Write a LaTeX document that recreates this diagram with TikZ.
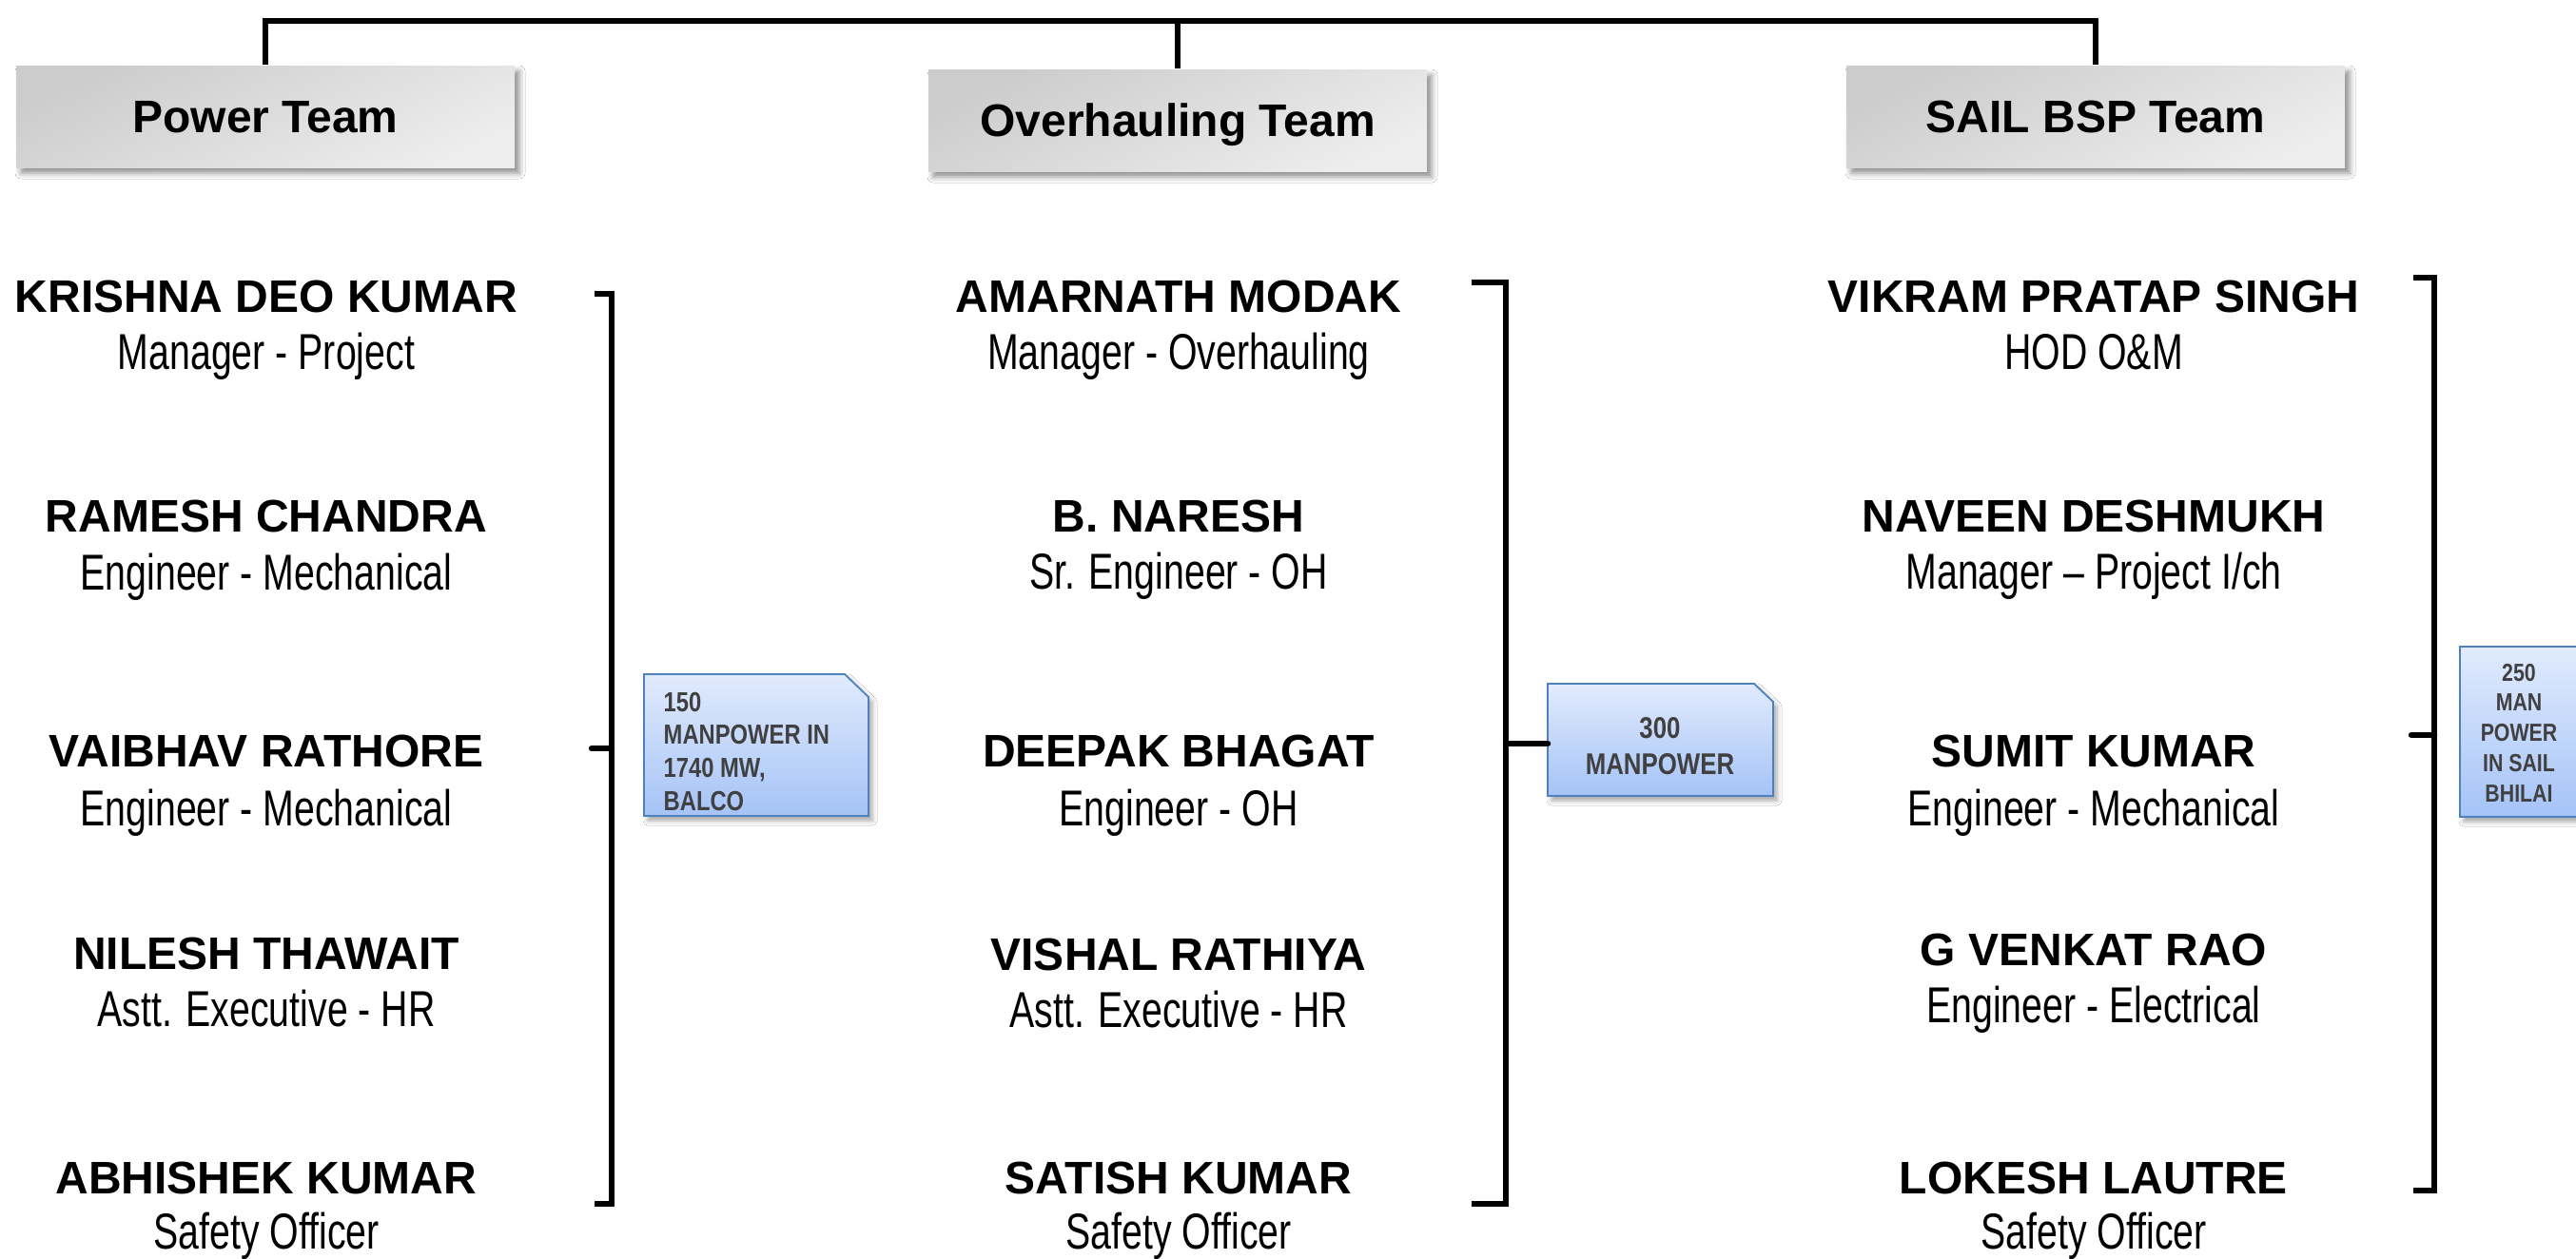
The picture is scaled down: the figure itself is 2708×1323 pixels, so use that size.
\documentclass[tikz,border=0pt]{standalone}
\usepackage{fontspec}
\setmainfont{Liberation Sans}
\newfontfamily\narrowfont[FakeStretch=0.82]{Liberation Sans}
\newfontfamily\rolefont[FakeStretch=0.74]{Liberation Sans}
\usetikzlibrary{shadows.blur,calc}
\definecolor{tbtop}{HTML}{CCCCCC}
\definecolor{tbbot}{HTML}{EDEDED}
\definecolor{cotop}{HTML}{E1EBFD}
\definecolor{cobot}{HTML}{A5C3F7}
\definecolor{coline}{HTML}{4F81BD}
\definecolor{cotext}{HTML}{404040}
\begin{document}
\begin{tikzpicture}[x=0.1mm,y=-0.1mm,line join=miter,
  teambox/.style={minimum width=52.4mm,minimum height=10.7mm,inner sep=0pt,
    top color=tbtop,bottom color=tbbot,shading angle=25,
    font=\bfseries\fontsize{13.66pt}{16pt}\selectfont,text height=9.8pt,text depth=0pt,
    blur shadow={shadow xshift=0.5mm,shadow yshift=-0.6mm,shadow blur radius=0.6mm,shadow opacity=45}},
  pname/.style={anchor=base,inner sep=0pt,font=\bfseries\fontsize{13.66pt}{16pt}\selectfont},
  prole/.style={anchor=base,inner sep=0pt,font=\rolefont\fontsize{15.1pt}{18pt}\selectfont},
  busline/.style={line width=0.6mm},
  brk/.style={line width=0.65mm},
  callout/.style={draw=coline,line width=0.18mm,top color=cotop,bottom color=cobot,
    blur shadow={shadow xshift=0.4mm,shadow yshift=-0.5mm,shadow blur radius=0.5mm,shadow opacity=35}},
  cotxt/.style={inner sep=0pt,text depth=0pt,text=cotext},
]
\useasboundingbox (0,0) rectangle (2708,1323);
\fill[white] (0,0) rectangle (2708,1323);
\clip (0,0) rectangle (2708,1323);

% team boxes
\node[teambox] (t1) at (279,122.5) {Power Team};
\node[teambox] (t2) at (1238,126.5) {Overhauling Team};
\node[teambox] (t3) at (2203,122.5) {SAIL BSP Team};
\coordinate (bus) at (0,22);
\draw[busline] (t1.north) -- (t1.north |- bus) -- (t3.north |- bus) -- (t3.north);
\draw[busline] (t2.north) -- (t2.north |- bus);

% column 1
\node[pname] (n11) at (280,328) {KRISHNA DEO KUMAR};
\node[prole] (r11) at (280,388) {Manager - Project};
\node[pname] (n12) at (280,559) {RAMESH CHANDRA};
\node[prole] (r12) at (280,620) {Engineer - Mechanical};
\node[pname] (n13) at (280,806) {VAIBHAV RATHORE};
\node[prole] (r13) at (280,868) {Engineer - Mechanical};
\node[pname] (n14) at (280,1019) {NILESH THAWAIT};
\node[prole] (r14) at (280,1079) {Astt. Executive - HR};
\node[pname] (n15) at (280,1255) {ABHISHEK KUMAR};
\node[prole] (r15) at (280,1313) {Safety Officer};

% column 2
\node[pname] (n21) at (1239,328) {AMARNATH MODAK};
\node[prole] (r21) at (1239,388) {Manager - Overhauling};
\node[pname] (n22) at (1239,559) {B. NARESH};
\node[prole] (r22) at (1239,619) {Sr. Engineer - OH};
\node[pname] (n23) at (1239,806) {DEEPAK BHAGAT};
\node[prole] (r23) at (1239,868) {Engineer - OH};
\node[pname] (n24) at (1239,1020) {VISHAL RATHIYA};
\node[prole] (r24) at (1239,1080) {Astt. Executive - HR};
\node[pname] (n25) at (1239,1255) {SATISH KUMAR};
\node[prole] (r25) at (1239,1313) {Safety Officer};

% column 3
\node[pname] (n31) at (2201,328) {VIKRAM PRATAP SINGH};
\node[prole] (r31) at (2201,388) {HOD O\&M};
\node[pname] (n32) at (2201,559) {NAVEEN DESHMUKH};
\node[prole] (r32) at (2201,619) {Manager – Project I/ch};
\node[pname] (n33) at (2201,806) {SUMIT KUMAR};
\node[prole] (r33) at (2201,868) {Engineer - Mechanical};
\node[pname] (n34) at (2201,1015) {G VENKAT RAO};
\node[prole] (r34) at (2201,1075) {Engineer - Electrical};
\node[pname] (n35) at (2201,1255) {LOKESH LAUTRE};
\node[prole] (r35) at (2201,1313) {Safety Officer};

% brackets
\coordinate (b1a) at (625,309);  \coordinate (b1t) at (643,309);
\coordinate (b1b) at (643,1266); \coordinate (b1c) at (625,1266);
\coordinate (b1m) at (643,787);  \coordinate (b1n) at (622,787);
\draw[brk] (b1a) -- (b1t) -- (b1b) -- (b1c);
\draw[brk,line cap=round] (b1m) -- (b1n);

\coordinate (b2a) at (1547,297);  \coordinate (b2t) at (1583,297);
\coordinate (b2b) at (1583,1266); \coordinate (b2c) at (1547,1266);
\coordinate (b2m) at (1583,782);  \coordinate (c2w) at (1627,782);
\draw[brk] (b2a) -- (b2t) -- (b2b) -- (b2c);

\coordinate (b3a) at (2537,292);  \coordinate (b3t) at (2559,292);
\coordinate (b3b) at (2559,1252); \coordinate (b3c) at (2537,1252);
\coordinate (b3m) at (2559,773);  \coordinate (b3n) at (2535,773);
\draw[brk] (b3a) -- (b3t) -- (b3b) -- (b3c);
\draw[brk,line cap=round] (b3m) -- (b3n);

% callouts
\path[callout] (677,709) -- (888,709) -- (913,733) -- (913,858) -- (677,858) -- cycle;
\node[cotxt,anchor=south west,align=left,font=\narrowfont\bfseries\fontsize{8.25pt}{9.87pt}\selectfont] (k1) at (697,853) {150\\MANPOWER IN\\1740 MW,\\BALCO};

\path[callout] (1627,719) -- (1844,719) -- (1864,738) -- (1864,837) -- (1627,837) -- cycle;
\node[cotxt,anchor=south,align=center,font=\narrowfont\bfseries\fontsize{8.96pt}{10.81pt}\selectfont] (k2) at (1745,815) {300\\MANPOWER};
\draw[brk,line cap=round] (b2m) -- (c2w);

\path[callout] (2586,680) -- (2722,680) -- (2742,700) -- (2742,859) -- (2586,859) -- cycle;
\node[cotxt,anchor=south,align=center,font=\narrowfont\bfseries\fontsize{7.4pt}{9.05pt}\selectfont] (k3) at (2648,844) {250\\MAN\\POWER\\IN SAIL\\BHILAI};
\end{tikzpicture}
\end{document}
